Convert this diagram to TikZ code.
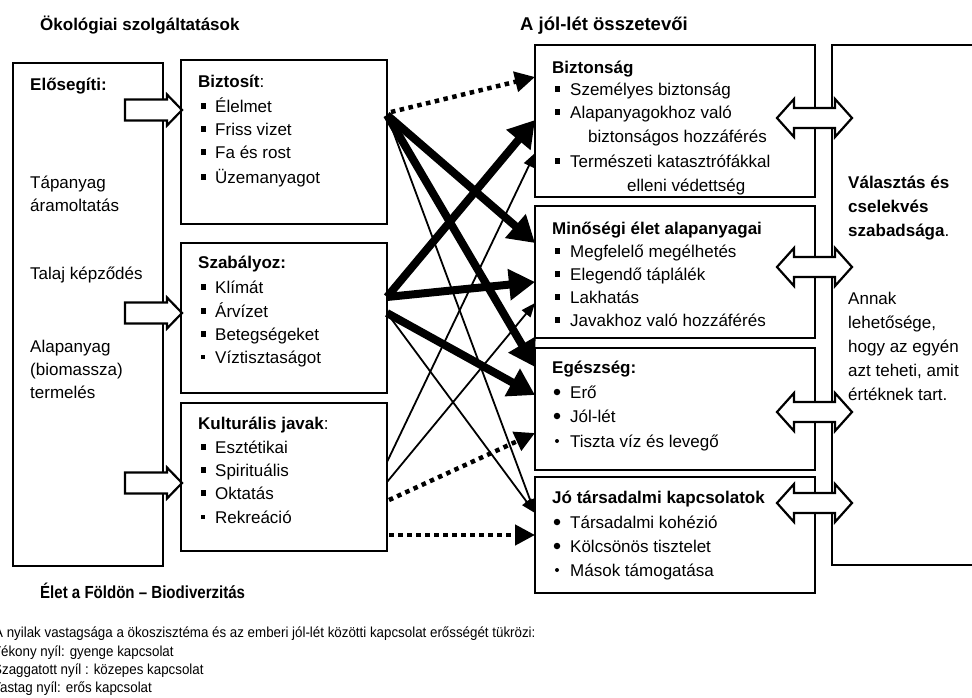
\documentclass[tikz,border=0pt]{standalone}
\usepackage{fontspec}
\setmainfont{Liberation Sans}
\newfontfamily\legendfont[FakeStretch=0.92]{Liberation Sans}
\newfontfamily\narrowfont[FakeStretch=0.86]{Liberation Sans}
\usetikzlibrary{arrows.meta}
\begin{document}
\begin{tikzpicture}[x=1pt,y=-1pt,
  box/.style={draw,line width=2.2pt,anchor=north west,inner sep=0pt,outer sep=0pt},
  txt/.style={anchor=base west,inner sep=0pt,font=\fontsize{17}{20}\selectfont},
  ttl/.style={anchor=base west,inner sep=0pt,font=\fontsize{17}{20}\selectfont\bfseries},
  leg/.style={anchor=base west,inner sep=0pt,font=\legendfont\fontsize{14.5}{17}\selectfont},
  sqb/.style={fill,rectangle,minimum width=5pt,minimum height=5.5pt,inner sep=0pt},
  sqs/.style={fill,rectangle,minimum width=3.5pt,minimum height=4pt,inner sep=0pt},
  rdb/.style={fill,circle,minimum size=6.5pt,inner sep=0pt},
  rds/.style={fill,circle,minimum size=4pt,inner sep=0pt},
  strongarr/.style={line width=8pt,-{Triangle[length=26pt,width=30pt]}},
  weakarr/.style={line width=1.8pt,-{Triangle[length=14pt,width=11pt]}},
  mediumarr/.style={line width=4.5pt,dash pattern=on 4.5pt off 4.5pt,-{Triangle[length=20pt,width=20pt]}},
  hollow/.style={draw,fill=white,line width=2.2pt,line join=miter},
]
\useasboundingbox (0,0) rectangle (972,697);

% titles
\node[ttl] (t-eco) at (40,30) {Ökológiai szolgáltatások};
\node[ttl,font=\fontsize{18.5}{20}\selectfont\bfseries] (t-wb) at (520,30) {A jól-lét összetevői};
\node[ttl,font=\narrowfont\fontsize{17.5}{20}\selectfont\bfseries] (t-life) at (40,598) {Élet a Földön – Biodiverzitás};

% boxes
\node[box,minimum width=150pt,minimum height=503pt] (elo) at (13,63) {};
\node[box,minimum width=206pt,minimum height=164pt] (bizt) at (181,60) {};
\node[box,minimum width=206pt,minimum height=150pt] (szab) at (181,243) {};
\node[box,minimum width=206pt,minimum height=148pt] (kult) at (181,403) {};
\node[box,minimum width=280pt,minimum height=152pt] (bzt) at (535,45) {};
\node[box,minimum width=280pt,minimum height=132pt] (min) at (535,206) {};
\node[box,minimum width=280pt,minimum height=122pt] (eg) at (535,348) {};
\node[box,minimum width=280pt,minimum height=116pt] (jo) at (535,477) {};
\node[box,minimum width=170pt,minimum height=520pt] (val) at (832,45) {};

% left box text
\node[ttl] (e0) at (30,90) {Elősegíti:};
\node[txt] (e1) at (30,188) {Tápanyag};
\node[txt] (e2) at (30,211) {áramoltatás};
\node[txt] (e3) at (30,279) {Talaj képződés};
\node[txt] (e4) at (30,352) {Alapanyag};
\node[txt] (e5) at (30,375) {(biomassza)};
\node[txt] (e6) at (30,398) {termelés};

% Biztosít
\node[txt] (b0) at (198,87) {\textbf{Biztosít}:};
\node[txt] (b1) at (215,112) {Élelmet};
\node[txt] (b2) at (215,135) {Friss vizet};
\node[txt] (b3) at (215,158) {Fa és rost};
\node[txt] (b4) at (215,183) {Üzemanyagot};
\node[sqb] (bb1) at (203,106) {};
\node[sqb] (bb2) at (203,129) {};
\node[sqb] (bb3) at (203,152) {};
\node[sqb] (bb4) at (203,177) {};

% Szabályoz
\node[ttl] (s0) at (198,268) {Szabályoz:};
\node[txt] (s1) at (215,293) {Klímát};
\node[txt] (s2) at (215,317) {Árvízet};
\node[txt] (s3) at (215,340) {Betegségeket};
\node[txt] (s4) at (215,363) {Víztisztaságot};
\node[sqb] (sb1) at (203,287) {};
\node[sqb] (sb2) at (203,311) {};
\node[sqb] (sb3) at (203,334) {};
\node[sqs] (sb4) at (203,357) {};

% Kulturális
\node[txt] (k0) at (198,429) {\textbf{Kulturális javak}:};
\node[txt] (k1) at (215,453) {Esztétikai};
\node[txt] (k2) at (215,476) {Spirituális};
\node[txt] (k3) at (215,499) {Oktatás};
\node[txt] (k4) at (215,523) {Rekreáció};
\node[sqb] (kb1) at (203,447) {};
\node[sqb] (kb2) at (203,470) {};
\node[sqb] (kb3) at (203,493) {};
\node[sqs] (kb4) at (203,517) {};

% Biztonság
\node[ttl] (z0) at (552,73) {Biztonság};
\node[txt] (z1) at (570,95) {Személyes biztonság};
\node[txt] (z2) at (570,118) {Alapanyagokhoz való};
\node[txt] (z3) at (588,142) {biztonságos hozzáférés};
\node[txt] (z4) at (570,167) {Természeti katasztrófákkal};
\node[txt] (z5) at (627,191) {elleni védettség};
\node[sqb] (zb1) at (557,89) {};
\node[sqb] (zb2) at (557,112) {};
\node[sqb] (zb3) at (557,161) {};

% Minőségi
\node[ttl] (m0) at (552,234) {Minőségi élet alapanyagai};
\node[txt] (m1) at (570,257) {Megfelelő megélhetés};
\node[txt] (m2) at (570,280) {Elegendő táplálék};
\node[txt] (m3) at (570,303) {Lakhatás};
\node[txt] (m4) at (570,326) {Javakhoz való hozzáférés};
\node[sqb] (mb1) at (557,251) {};
\node[sqb] (mb2) at (557,274) {};
\node[sqb] (mb3) at (557,297) {};
\node[sqb] (mb4) at (557,320) {};

% Egészség
\node[ttl] (g0) at (552,373) {Egészség:};
\node[txt] (g1) at (570,398) {Erő};
\node[txt] (g2) at (570,422) {Jól-lét};
\node[txt] (g3) at (570,447) {Tiszta víz és levegő};
\node[rdb] (gb1) at (557,392) {};
\node[rdb] (gb2) at (557,416) {};
\node[rds] (gb3) at (557,441) {};

% Jó társadalmi
\node[ttl] (j0) at (552,503) {Jó társadalmi kapcsolatok};
\node[txt] (j1) at (570,528) {Társadalmi kohézió};
\node[txt] (j2) at (570,552) {Kölcsönös tisztelet};
\node[txt] (j3) at (570,576) {Mások támogatása};
\node[rdb] (jb1) at (557,522) {};
\node[rdb] (jb2) at (557,546) {};
\node[rds] (jb3) at (557,570) {};

% big box text
\node[ttl] (v1) at (848,188) {Választás és};
\node[ttl] (v2) at (848,212) {cselekvés};
\node[txt] (v3) at (848,236) {\textbf{szabadsága}.};
\node[txt] (v4) at (848,304) {Annak};
\node[txt] (v5) at (848,328) {lehetősége,};
\node[txt] (v6) at (848,352) {hogy az egyén};
\node[txt] (v7) at (848,376) {azt teheti, amit};
\node[txt] (v8) at (848,400) {értéknek tart.};

% legend
\node[leg] (l1) at (-6,637) {A nyilak vastagsága a ökoszisztéma és az emberi jól-lét közötti kapcsolat erősségét tükrözi:};
\node[leg] (l2) at (-8,656) {Vékony nyíl: gyenge kapcsolat};
\node[leg] (l3) at (-7,674) {Szaggatott nyíl : közepes kapcsolat};
\node[leg] (l4) at (-8,692) {Vastag nyíl: erős kapcsolat};

% hollow arrows left -> middle
\foreach \yy in {110,313,483}{
  \draw[hollow] (125,\yy-10.5) -- (167,\yy-10.5) -- (167,\yy-15.5) -- (182,\yy)
     -- (167,\yy+15.5) -- (167,\yy+10.5) -- (125,\yy+10.5) -- cycle;
}
% double hollow arrows
\foreach \yy in {118,267,412,503}{
  \draw[hollow] (777,\yy) -- (794,\yy-19) -- (794,\yy-10) -- (835,\yy-10) -- (835,\yy-19)
     -- (852,\yy) -- (835,\yy+19) -- (835,\yy+10) -- (794,\yy+10) -- (794,\yy+19) -- cycle;
}

% connector points
\coordinate (pB) at (387,115);
\coordinate (pBd) at (391,112);
\coordinate (pS1) at (387,297);
\coordinate (pS2) at (387,313);
\coordinate (pK1) at (387,462);
\coordinate (pK2) at (387,482);
\coordinate (pK3) at (389,500);
\coordinate (pK4) at (389,535);
\coordinate (tB1) at (535,77);
\coordinate (tB2) at (535,120);
\coordinate (tB3) at (535,153);
\coordinate (tM1) at (535,243);
\coordinate (tM2) at (535,282);
\coordinate (tM3) at (535,303);
\coordinate (tE1) at (535,367);
\coordinate (tE2) at (535,395);
\coordinate (tE3) at (535,433);
\coordinate (tJ1) at (535,513);
\coordinate (tJ2) at (535,535);

% connectors
\draw[weakarr] (pB) -- (tJ1);
\draw[weakarr] (pS2) -- (tJ1);
\draw[weakarr] (pK1) -- (tB3);
\draw[weakarr] (pK2) -- (tM3);
\draw[mediumarr] (pBd) -- (tB1);
\draw[mediumarr] (pK3) -- (tE3);
\draw[mediumarr] (pK4) -- (tJ2);
\draw[strongarr] (pB) -- (tM1);
\draw[strongarr] (pB) -- (tE1);
\draw[strongarr] (pS1) -- (tB2);
\draw[strongarr] (pS1) -- (tM2);
\draw[strongarr] (pS2) -- (tE2);
\end{tikzpicture}
\end{document}
